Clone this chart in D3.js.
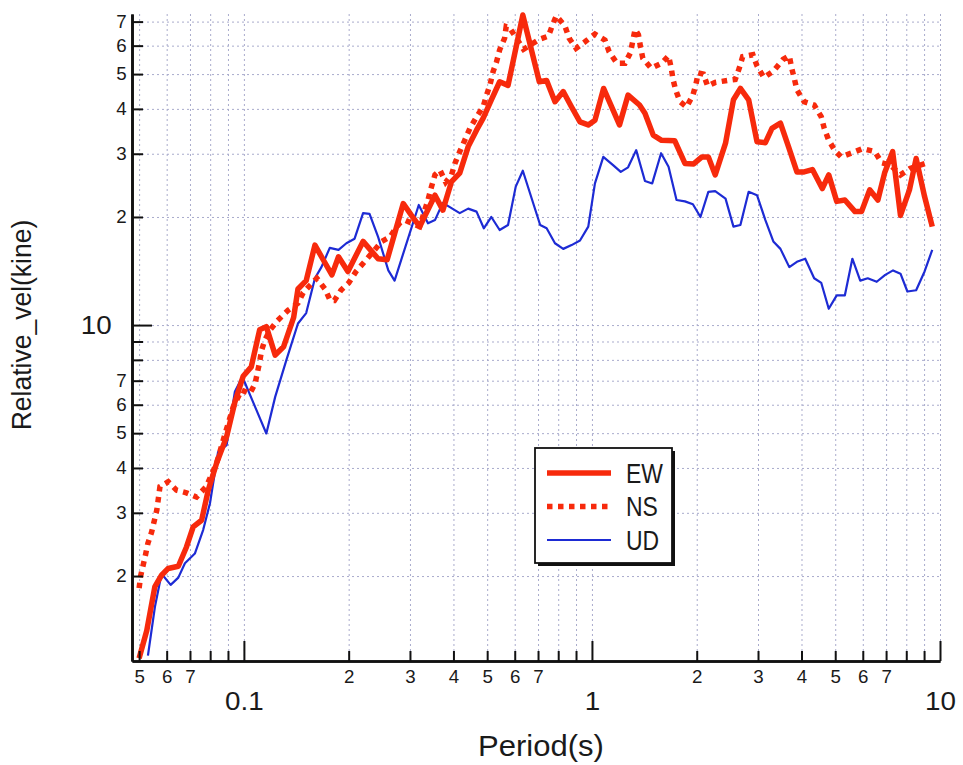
<!DOCTYPE html>
<html lang="en">
<head>
<meta charset="UTF-8">
<title>Relative velocity response</title>
<script src="https://d3js.org/d3.v7.min.js"></script>
<style>
  body { margin: 0; background: #fff; }
  svg text { font-family: "Liberation Sans", Arial, sans-serif; fill: #1a1a1a; }
</style>
</head>
<body>
<div class="canvas"></div>
<script>
  // period (s) / relative velocity (kine)
  const periodEW = [0.05, 0.0526, 0.0555, 0.058, 0.0606, 0.0648, 0.0684, 0.0715, 0.0756, 0.079,
    0.0835, 0.0892, 0.0942, 0.0995, 0.105, 0.111, 0.116, 0.123, 0.130, 0.139,
    0.143, 0.151, 0.160, 0.169, 0.179, 0.187, 0.199, 0.220, 0.243, 0.258,
    0.287, 0.303, 0.320, 0.354, 0.373, 0.395, 0.417, 0.441, 0.466, 0.487,
    0.514, 0.543, 0.574, 0.633, 0.706, 0.741, 0.783, 0.827, 0.874, 0.924,
    0.976, 1.02, 1.08, 1.15, 1.20, 1.27, 1.37, 1.42, 1.50, 1.585,
    1.73, 1.85, 1.96, 2.07, 2.16, 2.26, 2.42, 2.55, 2.67, 2.82,
    2.98, 3.15, 3.29, 3.48, 3.67, 3.88, 4.07, 4.30, 4.59, 4.79,
    5.05, 5.33, 5.70, 5.95, 6.28, 6.63, 6.93, 7.31, 7.70, 8.17,
    8.54, 9.03, 9.50]
  const velEW = [1.18, 1.41, 1.87, 2.01, 2.10, 2.13, 2.41, 2.74, 2.86, 3.47,
    4.13, 4.89, 6.1, 7.2, 7.65, 9.7, 9.9, 8.25, 8.7, 10.5,
    12.6, 13.3, 16.7, 15.2, 13.8, 15.5, 14.1, 17.1, 15.3, 15.2,
    21.8, 20.2, 18.8, 23.0, 20.9, 25.1, 26.5, 31.4, 34.9, 37.7,
    42.4, 47.6, 46.5, 73.0, 47.6, 48.0, 41.9, 44.7, 40.5, 36.8,
    36.1, 37.2, 45.6, 39.7, 36.1, 43.7, 41.0, 38.9, 33.8, 32.7,
    32.6, 28.2, 28.1, 29.4, 29.4, 26.2, 32.1, 42.4, 45.6, 42.4,
    32.4, 32.2, 35.3, 36.5, 31.4, 26.7, 26.7, 27.1, 24.0, 26.2,
    22.1, 22.3, 20.7, 20.7, 23.8, 22.3, 26.5, 30.4, 20.2, 23.8,
    29.1, 22.8, 18.8]

  const periodNS = [0.05, 0.0505, 0.052, 0.053, 0.0543, 0.0562, 0.0574, 0.0606, 0.064, 0.0684,
    0.0731, 0.078, 0.0835, 0.0872, 0.0932, 0.0985, 0.104, 0.1076, 0.111, 0.1124,
    0.115, 0.119, 0.125, 0.134, 0.143, 0.148, 0.162, 0.171, 0.177, 0.182,
    0.190, 0.200, 0.210, 0.222, 0.249, 0.263, 0.271, 0.28, 0.29, 0.320,
    0.338, 0.346, 0.354, 0.366, 0.38, 0.395, 0.404, 0.417, 0.431, 0.446,
    0.466, 0.487, 0.498, 0.509, 0.52, 0.532, 0.543, 0.561, 0.567, 0.58,
    0.636, 0.706, 0.75, 0.772, 0.79, 0.836, 0.86, 0.90, 0.955, 1.02,
    1.09, 1.12, 1.18, 1.245, 1.29, 1.31, 1.33, 1.36, 1.38, 1.40,
    1.48, 1.585, 1.66, 1.69, 1.71, 1.74, 1.79, 1.87, 1.95, 1.99,
    2.02, 2.09, 2.15, 2.26, 2.45, 2.58, 2.65, 2.71, 2.9, 2.98,
    3.12, 3.33, 3.54, 3.69, 3.75, 3.82, 3.88, 4.07, 4.35, 4.56,
    4.65, 4.79, 4.99, 5.2, 5.6, 6.0, 6.5, 6.8, 7.2, 7.7,
    8.2, 9.1]
  const velNS = [1.85, 2.0, 2.26, 2.47, 2.65, 3.05, 3.55, 3.66, 3.47, 3.41,
    3.32, 3.55, 4.13, 4.78, 5.92, 6.59, 6.45, 6.85, 7.9, 8.5,
    9.1, 9.7, 10.3, 11.0, 11.5, 12.3, 13.5, 12.6, 11.7, 11.7,
    12.5, 13.1, 14.1, 15.0, 17.1, 17.6, 18.4, 19.2, 19.6, 18.8,
    22.3, 24.3, 26.2, 27.0, 25.0, 26.2, 28.2, 30.4, 32.7, 35.3,
    38.0, 40.6, 43.7, 46.5, 50.8, 54.1, 58.4, 62.9, 67.8, 67.3,
    58.6, 62.5, 63.8, 68.9, 72.6, 68.1, 62.9, 59.0, 61.5, 64.6,
    62.2, 57.7, 53.6, 53.6, 57.3, 61.8, 66.6, 64.3, 59.3, 55.3,
    51.9, 53.6, 56.2, 51.9, 48.3, 45.2, 41.9, 40.5, 43.7, 46.9,
    50.4, 50.0, 46.3, 47.4, 48.0, 48.3, 51.9, 55.9, 56.6, 52.7,
    48.9, 51.1, 54.9, 56.2, 51.9, 48.3, 45.2, 41.9, 41.0, 38.0,
    35.3, 32.7, 30.6, 29.4, 30.2, 31.0, 30.4, 28.3, 27.9, 26.2,
    27.3, 28.2]

  const periodUD = [0.053, 0.0555, 0.058, 0.0616, 0.0648, 0.0677, 0.0723, 0.0764, 0.0799, 0.0843,
    0.0892, 0.0942, 0.099, 0.116, 0.123, 0.1325, 0.143, 0.151, 0.160, 0.167,
    0.1765, 0.187, 0.197, 0.208, 0.220, 0.2296, 0.243, 0.26, 0.271, 0.318,
    0.338, 0.354, 0.373, 0.417, 0.441, 0.466, 0.489, 0.514, 0.543, 0.574,
    0.604, 0.633, 0.71, 0.741, 0.783, 0.827, 0.874, 0.924, 0.976, 1.02,
    1.078, 1.15, 1.21, 1.27, 1.34, 1.42, 1.49, 1.58, 1.66, 1.75,
    1.85, 1.95, 2.05, 2.16, 2.26, 2.42, 2.55, 2.67, 2.82, 2.98,
    3.15, 3.32, 3.48, 3.69, 3.88, 4.1, 4.35, 4.56, 4.79, 5.05,
    5.33, 5.6, 5.9, 6.2, 6.58, 6.96, 7.33, 7.7, 8.06, 8.54,
    9.03, 9.5]
  const velUD = [1.2, 1.64, 2.03, 1.89, 1.98, 2.17, 2.31, 2.69, 3.19, 4.43,
    4.63, 6.52, 7.18, 4.99, 6.31, 8.0, 10.1, 10.8, 13.5, 14.5,
    16.4, 16.2, 16.9, 17.4, 20.5, 20.4, 17.6, 14.2, 13.3, 21.6,
    19.2, 19.6, 21.9, 20.5, 21.1, 20.7, 18.6, 20.0, 18.4, 19.0,
    24.3, 26.9, 19.0, 18.6, 16.9, 16.3, 16.7, 17.2, 18.8, 24.8,
    29.4, 27.9, 26.7, 27.5, 30.7, 25.2, 24.8, 30.1, 27.6, 22.3,
    22.1, 21.7, 20.0, 23.5, 23.6, 22.5, 18.8, 19.0, 23.5, 23.0,
    19.6, 17.1, 16.3, 14.5, 15.0, 15.3, 13.5, 13.1, 11.1, 12.1,
    12.1, 15.3, 13.3, 13.5, 13.2, 13.8, 14.2, 13.9, 12.4, 12.5,
    14.1, 16.2]

  const seriesNames = ['EW', 'NS', 'UD']

  // tick values
  const xMajorTicks = [0.1, 1, 10]
  const xMinorTicks = [0.05, 0.06, 0.07, 0.08, 0.09, 0.2, 0.3, 0.4, 0.5, 0.6, 0.7, 0.8, 0.9,
    2, 3, 4, 5, 6, 7, 8, 9]
  const xMinorLabels = [0.05, 0.06, 0.07, 0.2, 0.3, 0.4, 0.5, 0.6, 0.7, 2, 3, 4, 5, 6, 7]
  const yMajorTicks = [10]
  const yMinorTicks = [2, 3, 4, 5, 6, 7, 8, 9, 20, 30, 40, 50, 60, 70]
  const yMinorLabels = [2, 3, 4, 5, 6, 7, 20, 30, 40, 50, 60, 70]

  const W = 963, H = 765
  const m = { left: 132, right: 940, top: 14, bottom: 661 }
  const red = '#f72a0c', blue = '#1d2bd4'

  const svg = d3.select('.canvas')
    .append('svg')
    .attr('width', W)
    .attr('height', H)

  const x = d3.scaleLog().domain([0.0477, 10]).range([m.left, m.right])
  const y = d3.scaleLog().domain([1.16, 73.5]).range([m.bottom, m.top])

  const digit = d => String(Math.round(d / Math.pow(10, Math.floor(Math.log10(d) + 1e-9))))

  // grid
  svg.append('g')
    .attr('class', 'grid')
    .attr('transform', `translate(0, ${m.bottom})`)
    .call(d3.axisBottom(x).tickValues(xMinorTicks.concat(xMajorTicks))
      .tickSize(-(m.bottom - m.top)).tickFormat(''))
    .call(g => g.select('.domain').remove())
  svg.append('g')
    .attr('class', 'grid')
    .attr('transform', `translate(${m.left}, 0)`)
    .call(d3.axisLeft(y).tickValues(yMinorTicks.concat(yMajorTicks))
      .tickSize(-(m.right - m.left)).tickFormat(''))
    .call(g => g.select('.domain').remove())
  svg.selectAll('.grid .tick line')
    .attr('stroke', '#a9abcc')
    .attr('stroke-width', 1)
    .attr('stroke-dasharray', '2,3')

  // series
  const line = d3.line()
    .x(d => x(d[0]))
    .y(d => y(d[1]))

  svg.append('path')
    .datum(d3.zip(periodUD, velUD))
    .attr('fill', 'none')
    .attr('stroke', blue)
    .attr('stroke-width', 2.2)
    .attr('stroke-linejoin', 'round')
    .attr('d', line)
  svg.append('path')
    .datum(d3.zip(periodNS, velNS))
    .attr('fill', 'none')
    .attr('stroke', red)
    .attr('stroke-width', 5.5)
    .attr('stroke-dasharray', '5.5,5.5')
    .attr('d', line)
  svg.append('path')
    .datum(d3.zip(periodEW, velEW))
    .attr('fill', 'none')
    .attr('stroke', red)
    .attr('stroke-width', 5.5)
    .attr('stroke-linejoin', 'round')
    .attr('d', line)

  // axes
  const styleAxis = (g, size) => {
    g.select('.domain').attr('stroke', '#111').attr('stroke-width', 2.6)
    g.selectAll('.tick line').attr('stroke', '#111').attr('stroke-width', 2)
    g.selectAll('.tick text').attr('font-size', size).attr('fill', '#1a1a1a')
      .attr('font-family', '"Liberation Sans", Arial, sans-serif')
      .attr('transform', 'scale(1.07,1)')
  }
  svg.append('g')
    .attr('transform', `translate(0, ${m.bottom})`)
    .call(d3.axisBottom(x).tickValues(xMinorTicks).tickSizeInner(-10).tickSizeOuter(0)
      .tickPadding(10).tickFormat(d => xMinorLabels.includes(d) ? digit(d) : ''))
    .call(g => styleAxis(g, 17.5))
  svg.append('g')
    .attr('transform', `translate(0, ${m.bottom})`)
    .call(d3.axisBottom(x).tickValues(xMajorTicks).tickSizeInner(-20).tickSizeOuter(0)
      .tickPadding(31).tickFormat(d => String(d)))
    .call(g => styleAxis(g, 26))
  svg.append('g')
    .attr('transform', `translate(${m.left}, 0)`)
    .call(d3.axisLeft(y).tickValues(yMinorTicks).tickSizeInner(-11).tickSizeOuter(0)
      .tickPadding(5).tickFormat(d => yMinorLabels.includes(d) ? digit(d) : ''))
    .call(g => styleAxis(g, 17.5))
  svg.append('g')
    .attr('transform', `translate(${m.left}, 0)`)
    .call(d3.axisLeft(y).tickValues(yMajorTicks).tickSizeInner(-20).tickSizeOuter(0)
      .tickPadding(19).tickFormat(d => String(d)))
    .call(g => styleAxis(g, 26))

  // axis titles
  svg.append('text')
    .attr('transform', `translate(541, 756) scale(1.07,1)`)
    .attr('text-anchor', 'middle')
    .attr('font-size', 29)
    .text('Period(s)')
  svg.append('text')
    .attr('transform', `translate(31, 325) rotate(-90) scale(1,1.07)`)
    .attr('text-anchor', 'middle')
    .attr('font-size', 26.5)
    .text('Relative_vel(kine)')

  // legend
  const lg = svg.append('g').attr('transform', 'translate(535, 448)')
  lg.append('rect')
    .attr('x', 3).attr('y', 3).attr('width', 137).attr('height', 115)
    .attr('fill', '#111')
  lg.append('rect')
    .attr('width', 137).attr('height', 115)
    .attr('fill', '#fff').attr('stroke', '#111').attr('stroke-width', 1.8)
  const legendStyle = [
    { w: 5.5, dash: null, color: red },
    { w: 5.5, dash: '5.5,5.5', color: red },
    { w: 2.2, dash: null, color: blue }
  ]
  seriesNames.forEach((name, i) => {
    const ly = 25 + i * 33.5
    lg.append('line')
      .attr('x1', 12).attr('x2', 76).attr('y1', ly).attr('y2', ly)
      .attr('stroke', legendStyle[i].color)
      .attr('stroke-width', legendStyle[i].w)
      .attr('stroke-dasharray', legendStyle[i].dash)
    lg.append('text')
      .attr('transform', `translate(91, ${ly + 9.5}) scale(0.85,1)`)
      .attr('font-size', 27)
      .text(name)
  })
</script>
</body>
</html>
